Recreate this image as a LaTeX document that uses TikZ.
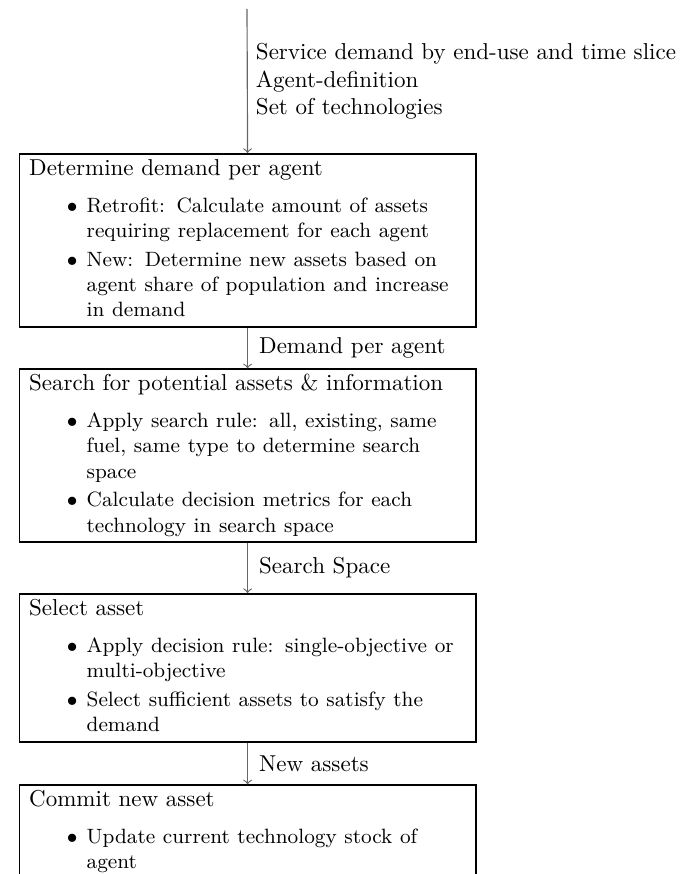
\documentclass[tikz,border=0pt]{standalone}
\newenvironment{bul}{\small\begin{list}{$\bullet$}{\setlength\leftmargin{25pt}\setlength\labelwidth{21pt}\setlength\labelsep{4pt}\setlength\topsep{0pt}\setlength\partopsep{0pt}\setlength\itemsep{1.6pt}\setlength\parsep{0pt}}}{\strut\end{list}}
\tikzset{
  stage/.style={draw=black, line width=0.7pt, anchor=north west, text width=189.9pt,
    inner xsep=4.3pt, inner ysep=1.05pt},
  conn/.style={->, draw=black!60, line width=0.5pt},
  lbl/.style={inner sep=0pt, align=left},
  elbl/.style={inner sep=0pt, anchor=west, xshift=4.8pt}
}
\newcommand{\stagetitle}[1]{\raggedright\strut #1\par\vspace{4.9pt}}
\begin{document}
\begin{tikzpicture}[x=0.43478pt, y=-0.43478pt]
\useasboundingbox (0,0) rectangle (695,874);
\coordinate (src) at (247,9);
\node[lbl, anchor=west] (inp) at (255.5,81.5) {Service demand by end-use and time slice\\Agent-definition\\Set of technologies};
\node[stage] (b1) at (18.5,153) {\stagetitle{Determine demand per agent}
\begin{bul}
\item Retrofit: Calculate amount of assets requiring replacement for each agent
\item New: Determine new assets based on agent share of population and increase in demand
\end{bul}};
\node[stage] (b2) at (18.5,368.3) {\stagetitle{Search for potential assets \& information}
\begin{bul}
\item Apply search rule: all, existing, same fuel, same type to determine search space
\item Calculate decision metrics for each technology in search space
\end{bul}};
\node[stage] (b3) at (18.5,593) {\stagetitle{Select asset}
\begin{bul}
\item Apply decision rule: single-objective or multi-objective
\item Select sufficient assets to satisfy the demand
\end{bul}};
\node[stage] (b4) at (18.5,784.3) {\stagetitle{Commit new asset}
\begin{bul}
\item Update current technology stock of agent
\end{bul}};
\draw[conn] (src) -- (b1.north);
\draw[conn] (b1.south) -- (b2.north) node[midway, elbl] (l1) {Demand per agent};
\draw[conn] (b2.south) -- (b3.north) node[midway, elbl] (l2) {Search Space};
\draw[conn] (b3.south) -- (b4.north) node[midway, elbl] (l3) {New assets};
\end{tikzpicture}
\end{document}
